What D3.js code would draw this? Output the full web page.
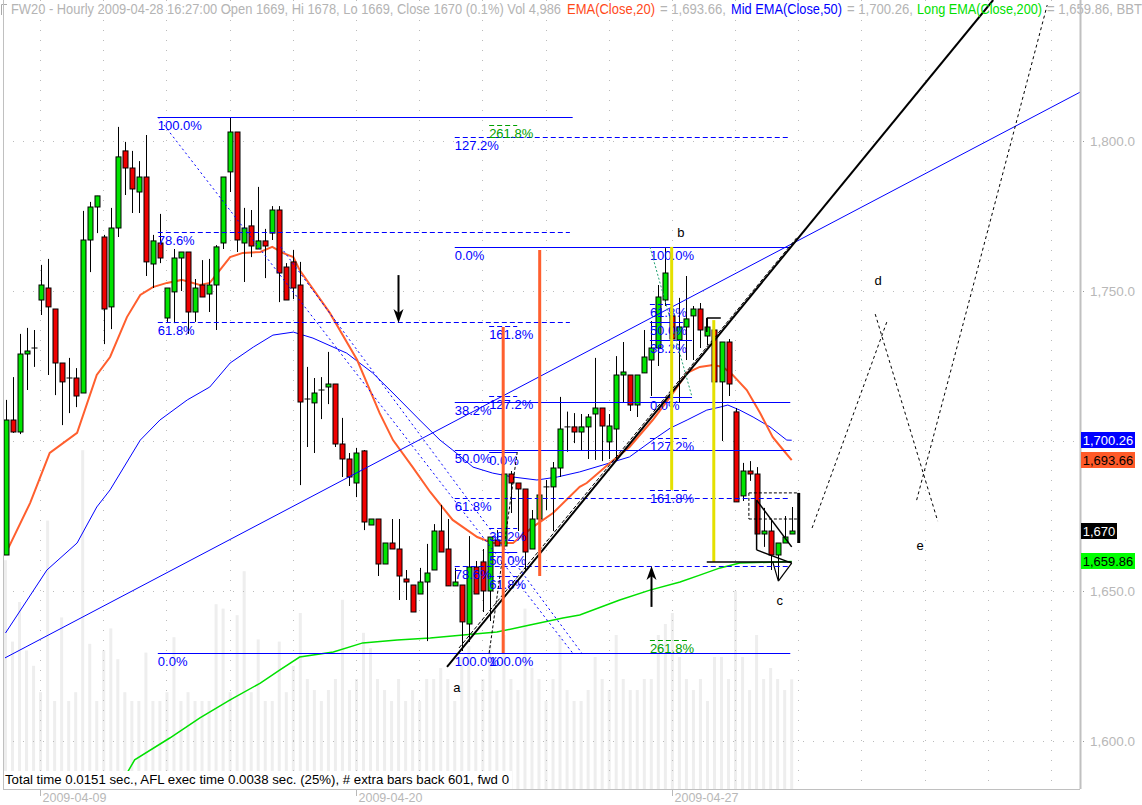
<!DOCTYPE html>
<html><head><meta charset="utf-8">
<script src="https://cdn.jsdelivr.net/npm/d3@7"></script>
<style>body{margin:0;background:#fff}svg{display:block}</style>
</head><body>
<svg id="c" width="1142" height="805"></svg>
<script>
// ---------- DATA ----------
const opens  = [1662,1707,1703,1729,1731,1747,1751,1744,1726,1721,1721,1716,1767,1778,1768,1744.7,1771,1796.7,1791,1783,
 1788,1759,1766,1741,1749.7,1761,1763,1743,1752,1749,1752,1766,1789.7,1803,1766,1771.7,1764,1766.7,1769.3,1777,
 1758,1759.7,1752,1714,1712.7,1717,1718,1719,1699,1694,1686,1696.7,1672,1674,1659,1666,1664,1654,1652,1649,
 1653,1657,1670,1664,1651.7,1652,1639,1658,1659.7,1650,1667,1665,1689,1686,1684,1664,1674,1684.7,1684.7,1691,
 1704.7,1704.7,1703,1704.7,1709,1711,1699.7,1704,1722,1722,1712,1722.7,1727,1731,1747,1741.7,1733.7,1738,1741.7,1744,
 1735,1737,1719.7,1733,1709.7,1681.7,1690,1689,1669,1670,1662,1666,1669];
const highs  = [1713.7,1721.3,1735.7,1737.7,1737,1758.7,1760.7,1744,1726,1727.7,1724.3,1776.7,1779.7,1781.7,1768.7,1777.7,1804.7,1799.7,1796.7,1793.3,
 1802,1768.7,1775.7,1751,1764,1763,1763,1754,1760.3,1760.7,1765.3,1788,1808,1803,1777.7,1777,1784.7,1770.7,1778.3,1778.3,
 1759.3,1763.7,1759.7,1724.7,1721,1721.3,1729.7,1719,1707.7,1696,1697.7,1697,1674,1674,1666,1674,1674,1657,1652,1657.7,
 1665.7,1672.3,1678.7,1674,1657.7,1652,1668.3,1660,1664,1668,1670.3,1689,1690,1686,1684,1677,1682,1687,1693,1714.7,
 1709.8,1709.3,1709,1709,1727.7,1711,1709,1728.3,1733,1722,1722,1737,1740,1752,1764.3,1748,1747.7,1755,1745,1746,
 1741,1740,1733,1734,1711,1692.7,1693.3,1691.3,1677.7,1673.7,1666,1675,1678];
const lows   = [1662,1702.7,1702.3,1717,1724.7,1742,1722,1715.3,1705.3,1709.3,1711.3,1716,1756.3,1769.3,1732.3,1737.3,1768,1782,1776,1776,
 1755,1751,1759.3,1739.7,1739.3,1750,1735.7,1739.7,1748,1743,1737,1764,1783,1763,1753,1761.3,1764,1754.3,1767,1746.3,
 1747,1747.3,1685.3,1698,1696,1707.3,1712.3,1698,1688,1685,1681.3,1670.3,1672,1655,1659,1664,1647,1647,1643,1649,
 1633.3,1657,1663,1651.7,1651.7,1630,1633,1649,1643,1640,1665,1665,1676,1670,1657,1664,1668,1677,1670,1688,
 1696.4,1699.3,1697,1694,1693.7,1693.3,1694,1694,1713,1710,1708,1722.7,1715,1725,1745,1726,1713,1727,1727,1731,
 1732,1719,1700,1715,1679.7,1680,1686.7,1669,1664.7,1657,1653.7,1666,1669];
const closes = [1707,1703,1729,1730,1731,1752,1744.7,1726,1719.7,1721,1715,1767,1778,1781.7,1744,1771,1794.7,1791,1784,1788,
 1759.7,1766.7,1761,1751,1761,1763,1743,1751,1748,1752,1764.7,1788,1803,1767,1771,1765,1766.7,1765,1777,1756,
 1747,1751,1713,1714,1716,1717,1719,1699,1694,1688,1696,1673,1674,1659,1666,1664,1655,1653,1643,1653,
 1656,1670,1663,1651.7,1653,1639.7,1658,1649,1650,1668,1665,1689,1686,1684,1663,1674,1682,1684,1691,1704,
 1704.5,1703,1704.7,1708,1711,1705,1705,1722,1723,1712,1722,1728,1731,1748,1756,1734,1738,1740.7,1744,1737,
 1738,1719.7,1733,1719,1679.7,1690,1689,1669,1670,1662,1666,1668,1670];
const volumes = [10400,6700,8500,6300,5600,4400,12200,4000,7800,4000,4400,15400,6600,4000,6300,7300,5900,4400,4000,4000,
 6200,4000,4000,4400,6900,4000,4400,4000,4000,4000,8400,8200,4400,7900,9900,4400,6800,4000,4000,6700,
 4400,5600,8000,5000,4500,4000,4500,5000,8600,4500,5000,7100,6400,5000,4500,4000,5000,4000,4500,4000,
 5000,5000,5500,5000,4000,6000,6500,4500,5000,6500,4500,7000,5000,4500,8200,5500,5000,4000,5000,7000,
 4500,4000,4000,4500,6000,5000,4500,7000,5000,4500,4500,5000,5000,7000,7500,8000,6000,5000,4500,5000,
 4000,6000,6000,5000,9000,6000,4500,7000,5000,5500,5000,4500,4986];

// moving-average lines: [bar, value]
const ema20Pts = [[0.4,1664.3],[3.5,1679.3],[6.3,1696],[10.2,1702.7],[13,1722],[14.9,1728],[17.3,1741.3],[19.2,1748.7],[21,1751.3],
 [23,1752.7],[25.1,1753.7],[27.7,1752],[29.1,1752.7],[32,1761.3],[33.8,1762.7],[36.3,1763],[38,1764.7],[39.5,1762.7],[41,1761.3],
 [41.9,1757],[46.2,1742.7],[50.1,1727],[53.3,1709.3],[55.2,1700.3],[58,1691.3],[60.5,1683],[63.7,1673.7],[67.2,1668],[69.4,1666],
 [72.3,1666],[75.1,1671.3],[78,1676],[81.8,1684.7],[82.8,1686],[86.1,1692.7],[88.9,1698],[92.2,1707],[94.7,1714.7],[97.1,1722.7],
 [98.9,1724.7],[100.8,1725.3],[102.2,1724.7],[103.6,1722],[105.6,1717],[107.5,1709.3],[109.3,1701.3],[110.8,1697],[112,1693.66]];
const ema50Pts = [[0,1636],[5.9,1657],[10.2,1666],[13,1678],[14.9,1683.7],[19.2,1700.3],[22,1707],[25.9,1713.7],[29.1,1718],[32,1726],
 [35.3,1731.3],[38.1,1735.3],[41,1736.3],[43.8,1734.3],[48.6,1729.3],[52.3,1722.7],[55.2,1716],[59,1707],[61.9,1700.3],[63.7,1697],
 [66.6,1691.3],[69.4,1689.3],[72.3,1688],[75.7,1687],[78.6,1688],[81.8,1689.7],[85.1,1692],[88.9,1694.7],[92.2,1700.3],[94.7,1704.3],
 [97.1,1707],[99.9,1710.3],[101.8,1711.3],[102.9,1712],[104.6,1710.3],[106.5,1708],[108.9,1704.7],[111.3,1700.3],[112,1700.26]];
const ema200Pts = [[16,1584],[18.4,1593.7],[23.4,1601],[27.7,1607.7],[32,1613.7],[36.3,1619.3],[39.1,1623.7],[41.9,1628],[46.7,1629.7],
 [50.9,1632.7],[55.8,1633.7],[60.5,1634.3],[65.2,1635.3],[70,1636.3],[74.7,1638.7],[79.4,1641],[81.8,1642],[87.5,1647],[91.8,1650.3],
 [96.1,1653],[98.9,1655.3],[101.8,1657.7],[104.6,1659.3],[112,1659.86]];

const priceTicks = [1600,1650,1700,1750,1800];
const dayStartBars = [5,14,23,32,41,50,59,68,77,86,95,104,113,122,131,140,149];
const dateLabels = [[5,"2009-04-09"],[50,"2009-04-20"],[95,"2009-04-27"]];
const lastValues = [[1700.26,"1,700.26","#0000ff","#fff",54],[1693.66,"1,693.66","#ff5a28","#000",54],
 [1670,"1,670","#000","#fff",36],[1659.86,"1,659.86","#00ff00","#000",54]];

// Fibonacci levels: [label, price, fromBar, toBar, dashed, colour]
const fibLines = [
 ["100.0%",1808,21.7,80.8,0,"#0000ff"],["78.6%",1769.8,21.7,80.4,1,"#0000ff"],["61.8%",1739.7,21.7,80.4,1,"#0000ff"],["0.0%",1629.3,21.7,80.8,0,"#0000ff"],
 ["0.0%",1764.7,64.0,111.8,0,"#0000ff"],["127.2%",1801.2,64.0,111.8,1,"#0000ff"],["38.2%",1713,64.0,111.8,0,"#0000ff"],["50.0%",1697,64.0,111.8,0,"#0000ff"],
 ["61.8%",1681,64.0,111.8,1,"#0000ff"],["78.6%",1658.3,64.0,111.8,1,"#0000ff"],["100.0%",1629.3,64.0,111.8,0,"#0000ff"],
 ["261.8%",1805.3,68.9,72.9,1,"#00a000"],["161.8%",1738.3,68.9,72.9,1,"#0000ff"],["127.2%",1715,68.9,72.9,1,"#0000ff"],["0.0%",1696.3,68.9,72.9,0,"#0000ff"],
 ["38.2%",1671,68.9,72.9,1,"#0000ff"],["50.0%",1663,68.9,72.9,0,"#0000ff"],["61.8%",1655,68.9,72.9,1,"#0000ff"],["100.0%",1629.3,68.9,72.9,0,"#0000ff"],
 ["100.0%",1764.7,91.8,97.8,0,"#0000ff"],["61.8%",1745.6,91.8,95.1,1,"#0000ff"],["50.0%",1739.7,91.8,96.5,0,"#0000ff"],["38.2%",1733.8,91.8,97.8,0,"#0000ff"],
 ["0.0%",1714.7,91.8,97.8,0,"#0000ff"],["127.2%",1701.1,91.8,97.4,1,"#0000ff"],["161.8%",1683.8,91.8,97.4,1,"#0000ff"],["261.8%",1633.8,91.8,97.4,1,"#00a000"]];

// drawn studies: [bar0, price0, bar1, price1, colour, width, dash]
const studyLines = [
 [-0.07,1627.7,153.1,1816.3,"#0000ff",1,null],
 [62.9,1624.7,140.7,1847,"#000",2,null],
 [64.6,1631,112.7,1767.7,"#000",1,"4,2"],
 [68.9,1629.3,72.9,1696.3,"#000",1,"3,2"],
 [21.7,1808,80.8,1629.3,"#0000ff",1,"2,3"],
 [39.2,1764.7,82.1,1629.3,"#0000ff",1,"2,3"],
 [91.8,1764.7,97.8,1714.7,"#20a070",1,"2,2"],
 [114.9,1671,125.6,1740,"#000",1,"3,3"],
 [123.9,1742.3,132.8,1673.3,"#000",1,"3,3"],
 [129.8,1680.3,148.4,1845.3,"#000",1,"3,3"],
 [70.9,1738,70.9,1629.3,"#ff5f2e",3,null],
 [76.1,1763.7,76.1,1655,"#ff5f2e",3,null],
 [94.9,1764.7,94.9,1683.7,"#e4e000",3,null],
 [100.9,1740.3,100.9,1659.7,"#e4e000",3,null],
 [99.9,1659.7,112,1659.7,"#000",1.5,null],
 [99.9,1736.3,99.9,1741,"#000",1.5,null],
 [99.9,1741,101.9,1741,"#000",1.5,null],
 [107,1680.3,112,1664.7,"#000",1.5,null],
 [107,1663.7,112,1659.3,"#000",1.5,null],
 [107,1680.3,107,1663.7,"#000",1.5,null],
 [109.3,1659.7,110.1,1653.3,"#000",1.2,null],
 [110.1,1653.3,112,1659.3,"#000",1.2,null],
 [105.9,1682.7,113,1682.7,"#000",1,"3,2"],
 [105.9,1682.7,105.9,1674,"#000",1,"3,2"],
 [105.9,1674,113,1674,"#000",1,"3,2"],
 [113,1682.7,113,1666,"#000",3,null]];
const arrows = [[55.9,1755.3,1739.3],[91.95,1644.7,1658.3]]; // bar, tail price, head price
const waveLabels = [["a",64.3,1618],["b",96.2,1769.7],["c",110.3,1647],["d",124.3,1753.7],["e",130.3,1665.3]];

const titleParts = [
 ["FW20 - Hourly 2009-04-28 16:27:00 Open 1669, Hi 1678, Lo 1669, Close 1670 (0.1%) Vol 4,986","#b4b4b4",11,561],
 ["EMA(Close,20)","#ff4a1a",567,655],["= 1,693.66,","#b4b4b4",660,726],
 ["Mid EMA(Close,50)","#0000ff",731,842],["= 1,700.26,","#b4b4b4",847,913],
 ["Long EMA(Close,200)","#00e000",917,1042],["= 1,659.86, BBT","#b4b4b4",1047,1142]];
const footerText = "Total time 0.0151 sec., AFL exec time 0.0038 sec. (25%), # extra bars back 601, fwd 0";

// ---------- DRAWING ----------
const svg = d3.select("#c");
const plotL = 3, plotR = 1080, plotB = 789;
const x = d3.scaleLinear().domain([0,112]).range([5.5,791.7]);
const y = d3.scaleLinear().domain([1600,1800]).range([741,141]);
const vh = d3.scaleLinear().domain([0,16000]).range([0,352]);
const font = "'Liberation Sans', Arial, sans-serif";

svg.append("defs").append("clipPath").attr("id","pc").append("rect")
  .attr("x",plotL).attr("y",0).attr("width",plotR-plotL).attr("height",plotB);
const g = svg.append("g").attr("clip-path","url(#pc)");

// volume
g.selectAll("rect.v").data(volumes).join("rect")
  .attr("x",(d,i)=>x(i)-1.5).attr("width",3)
  .attr("y",d=>plotB-vh(d)).attr("height",d=>vh(d)).attr("fill","#eeeeee");

// grid
g.selectAll("line.hg").data(priceTicks).join("line")
  .attr("x1",plotL).attr("x2",plotR).attr("y1",d=>Math.round(y(d))+0.5).attr("y2",d=>Math.round(y(d))+0.5)
  .attr("stroke","#bbb").attr("stroke-dasharray","1,9");
g.selectAll("line.vg").data(dayStartBars).join("line")
  .attr("x1",d=>Math.round(x(d)-0.5)+0.5).attr("x2",d=>Math.round(x(d)-0.5)+0.5).attr("y1",0).attr("y2",plotB)
  .attr("stroke","#bbb").attr("stroke-dasharray","1,9");

// title
const tt = svg.append("g").attr("font-family",font).attr("font-size",14);
titleParts.forEach(p=>{
  tt.append("text").attr("x",p[2]).attr("y",14).attr("fill",p[1])
    .attr("textLength",p[3]-p[2]).attr("lengthAdjust","spacingAndGlyphs").text(p[0]);
});
svg.append("path").attr("d","M1.5,15V4.5H7").attr("stroke","#aaa").attr("fill","none");

// EMAs
const ln = d3.line().x(d=>x(d[0])).y(d=>y(d[1]));
g.append("path").datum(ema200Pts).attr("d",ln).attr("fill","none").attr("stroke","#00e000").attr("stroke-width",1.5);
g.append("path").datum(ema50Pts).attr("d",ln).attr("fill","none").attr("stroke","#0000ff").attr("stroke-width",1);
g.append("path").datum(ema20Pts).attr("d",ln).attr("fill","none").attr("stroke","#ff5f2e").attr("stroke-width",2);

// candles
const cg = g.append("g");
opens.forEach((o,i)=>{
  const c = closes[i], cx = Math.round(x(i))+0.5;
  cg.append("line").attr("x1",cx).attr("x2",cx).attr("y1",y(highs[i])).attr("y2",y(lows[i])).attr("stroke","#000");
  if (Math.abs(o-c) < 0.8) {
    cg.append("line").attr("x1",cx-3).attr("x2",cx+3).attr("y1",y(o)).attr("y2",y(o)).attr("stroke","#000");
  } else {
    const top = y(Math.max(o,c)), bot = y(Math.min(o,c));
    cg.append("rect").attr("x",cx-2.5).attr("width",5).attr("y",top).attr("height",bot-top)
      .attr("fill", c>o ? "#00e400" : "#f00000").attr("stroke","#000").attr("stroke-width",1);
  }
});

// fib lines & labels
const fg = g.append("g").attr("font-family",font).attr("font-size",13);
fibLines.forEach(f=>{
  const yy = Math.round(y(f[1]))+0.5;
  fg.append("line").attr("x1",x(f[2])).attr("x2",x(f[3])).attr("y1",yy).attr("y2",yy)
    .attr("stroke",f[5]).attr("stroke-width",1).attr("stroke-dasharray",f[4]?"5,3":null);
  fg.append("text").attr("x",x(f[2])).attr("y",yy+12.5).attr("fill",f[5]).text(f[0]);
});

// study lines
studyLines.forEach(s=>{
  g.append("line").attr("x1",x(s[0])).attr("y1",y(s[1])).attr("x2",x(s[2])).attr("y2",y(s[3]))
    .attr("stroke",s[4]).attr("stroke-width",s[5]).attr("stroke-dasharray",s[6]);
});

// arrows
arrows.forEach(a=>{
  const ax = Math.round(x(a[0]))+0.5, y0 = y(a[1]), y1 = y(a[2]);
  const dir = y1>y0 ? 1 : -1;
  g.append("line").attr("x1",ax).attr("x2",ax).attr("y1",y0).attr("y2",y1-dir*6).attr("stroke","#000").attr("stroke-width",2);
  g.append("path").attr("d",`M${ax},${y1}L${ax-5},${y1-dir*14}L${ax},${y1-dir*10}L${ax+5},${y1-dir*14}Z`).attr("fill","#000");
});

// wave labels
waveLabels.forEach(w=>{
  g.append("text").attr("x",x(w[1])).attr("y",y(w[2])+5).attr("text-anchor","middle")
    .attr("font-family",font).attr("font-size",13).attr("fill","#000").text(w[0]);
});

// right axis
svg.append("line").attr("x1",plotR+0.5).attr("x2",plotR+0.5).attr("y1",0).attr("y2",plotB).attr("stroke","#c0c0c0").attr("stroke-width",2);
const ax = svg.append("g").attr("font-family",font).attr("font-size",13).attr("fill","#b8b8b8");
priceTicks.forEach(p=>{
  ax.append("rect").attr("x",plotR+3).attr("y",Math.round(y(p))).attr("width",1).attr("height",1).attr("fill","#999");
  ax.append("text").attr("x",plotR+10).attr("y",y(p)+5).attr("textLength",45).attr("lengthAdjust","spacingAndGlyphs")
    .text(d3.format(",.1f")(p));
});
lastValues.forEach(v=>{
  const yy = Math.round(y(v[0]));
  svg.append("rect").attr("x",plotR+1).attr("y",yy-8).attr("width",v[4]).attr("height",16).attr("fill",v[2]);
  svg.append("text").attr("x",plotR+1+v[4]/2).attr("y",yy+5).attr("text-anchor","middle").attr("fill",v[3])
    .attr("font-family",font).attr("font-size",13).text(v[1]);
});

// bottom frame, footer, dates
svg.append("line").attr("x1",plotL+0.5).attr("x2",plotL+0.5).attr("y1",0).attr("y2",plotB).attr("stroke","#c0c0c0");
svg.append("line").attr("x1",plotL).attr("x2",plotR).attr("y1",plotB+0.5).attr("y2",plotB+0.5).attr("stroke","#c0c0c0");
svg.append("rect").attr("x",plotL+1).attr("y",771).attr("width",508).attr("height",plotB-771).attr("fill","#fff");
svg.append("text").attr("x",5).attr("y",784).attr("font-family",font).attr("font-size",13).attr("fill","#000")
  .attr("textLength",504).attr("lengthAdjust","spacingAndGlyphs").text(footerText);
dateLabels.forEach(d=>{
  const dx = Math.round(x(d[0])-0.5)+0.5;
  svg.append("line").attr("x1",dx).attr("x2",dx).attr("y1",plotB+1).attr("y2",plotB+7).attr("stroke","#b8b8b8");
  svg.append("text").attr("x",dx+2).attr("y",802).attr("font-family",font).attr("font-size",13).attr("fill","#b8b8b8")
    .attr("textLength",64).attr("lengthAdjust","spacingAndGlyphs").text(d[1]);
});
</script>
</body></html>
